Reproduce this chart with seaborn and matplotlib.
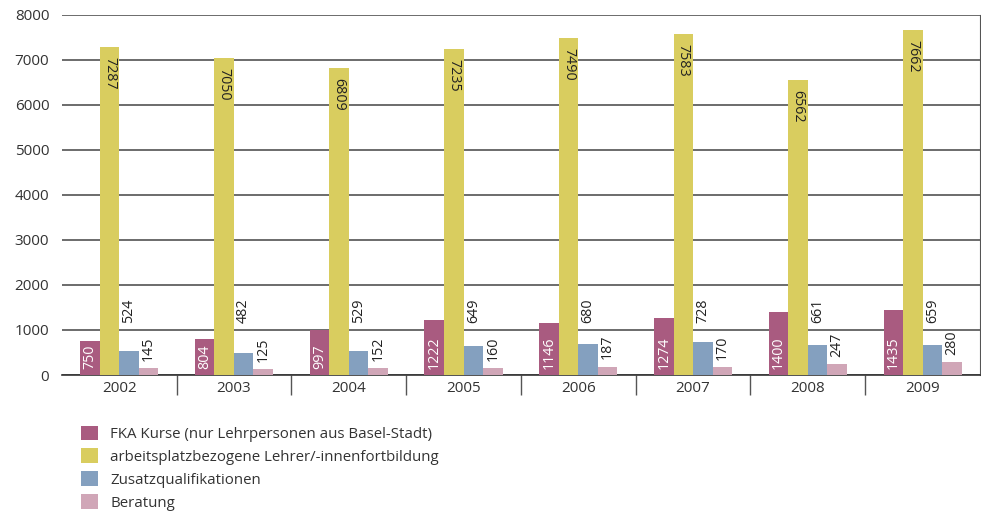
import pandas as pd
import numpy as np
import matplotlib.pyplot as plt
import seaborn as sns

years = ['2002', '2003', '2004', '2005', '2006', '2007', '2008', '2009']
series = ['FKA Kurse (nur Lehrpersonen aus Basel-Stadt)',
          'arbeitsplatzbezogene Lehrer/-innenfortbildung',
          'Zusatzqualifikationen',
          'Beratung']
fka = [750, 804, 997, 1222, 1146, 1274, 1400, 1435]
arbeitsplatz = [7287, 7050, 6809, 7235, 7490, 7583, 6562, 7662]
zusatz = [524, 482, 529, 649, 680, 728, 661, 659]
beratung = [145, 125, 152, 160, 187, 170, 247, 280]
colors = ['#a95b80', '#d9cd5f', '#84a0bf', '#d0a6b7']

df = pd.DataFrame({'Jahr': years * 4,
                   'Art': np.repeat(series, len(years)),
                   'Anzahl': fka + arbeitsplatz + zusatz + beratung})

sns.set_style('white')
plt.rcParams['font.family'] = ['Open Sans', 'DejaVu Sans']

fig = plt.figure(figsize=(9.81, 5.13), dpi=100)
ax = fig.add_axes([0.063, 0.269, 0.936, 0.702])

sns.barplot(data=df, x='Jahr', y='Anzahl', hue='Art', palette=colors,
            width=0.68, saturation=1, linewidth=0, ax=ax, legend=True,
            zorder=3)

ax.set_ylim(0, 8000)
ax.set_xlim(-0.5, 7.5)
ax.set_yticks(range(0, 8001, 1000))
ax.yaxis.grid(True, color='#444444', linewidth=1.1, zorder=0)
ax.set_axisbelow(True)
ax.set_xlabel('')
ax.set_ylabel('')
ax.tick_params(axis='both', labelsize=11, colors='#333333', length=0)
ax.tick_params(axis='y', pad=9)
ax.tick_params(axis='x', pad=4)
ax.set_xticks(np.arange(0.5, 7.5, 1), minor=True)
ax.tick_params(axis='x', which='minor', bottom=True, length=14.5, width=1,
               color='#555555')
for s in ['left', 'top']:
    ax.spines[s].set_visible(False)
ax.spines['right'].set_color('#555555')
ax.spines['bottom'].set_color('#333333')
ax.spines['bottom'].set_linewidth(1.2)

# value labels
c_fka, c_arb, c_zus, c_ber = ax.containers
fs = 10.3
for bar, v in zip(c_fka, fka):
    ax.text(bar.get_x() + bar.get_width() / 2, 140, str(v), rotation=90,
            ha='center', va='bottom', color='white', fontsize=fs)
for bar, v in zip(c_arb, arbeitsplatz):
    ax.text(bar.get_x() + bar.get_width() / 2, v - 220, str(v), rotation=270,
            ha='center', va='top', color='#222222', fontsize=fs)
for bar, v in zip(c_zus, zusatz):
    ax.text(bar.get_x() + bar.get_width() / 2, 1150, str(v), rotation=90,
            ha='center', va='bottom', color='#222222', fontsize=fs)
for bar, v in zip(c_ber, beratung):
    ax.text(bar.get_x() + bar.get_width() / 2, v + 160, str(v), rotation=90,
            ha='center', va='bottom', color='#222222', fontsize=fs)

leg = ax.legend(loc='upper left', bbox_to_anchor=(0.006, -0.103),
                frameon=False, fontsize=10.8, handlelength=1.15,
                handleheight=1.1, handletextpad=0.8, labelspacing=0.44,
                labelcolor='#333333')

fig.savefig('out.png', dpi=100)
